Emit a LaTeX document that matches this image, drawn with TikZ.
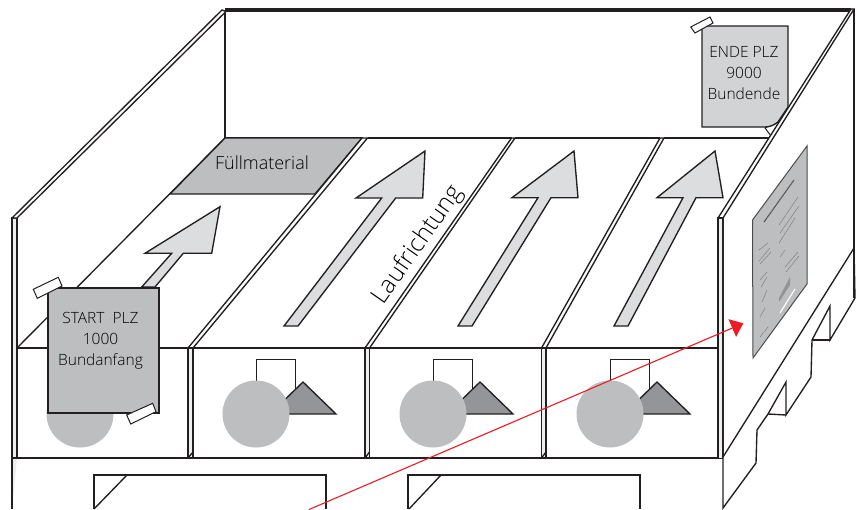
\documentclass[tikz,border=0pt]{standalone}
\usepackage{fontspec}
\setmainfont{Open Sans}
\newfontfamily\lightface{Open Sans Light}
\usetikzlibrary{arrows.meta}
\definecolor{ink}{HTML}{231F20}
\definecolor{midgrey}{HTML}{BCBEC0}
\definecolor{lightgrey}{HTML}{D1D3D4}
\definecolor{arrowgrey}{HTML}{DCDDDE}
\definecolor{darkgrey}{HTML}{939598}
\definecolor{strip}{HTML}{EEEEEF}
\definecolor{redline}{HTML}{ED1C24}
\tikzset{
  edge/.style={draw=ink,line width=1.35pt,line join=miter},
  thin edge/.style={draw=ink,line width=1pt,line join=miter},
  floorarrow/.style={edge,fill=arrowgrey},
  notetext/.style={font=\lightface\fontsize{15.5}{21}\selectfont,text=black,align=center,inner sep=0pt},
  print/.style={draw=black!50,line width=0.6pt,dash pattern=on 1.4pt off 0.5pt},
}
\begin{document}
\begin{tikzpicture}[x=1pt,y=-1pt]
\useasboundingbox (0,0) rectangle (857,509);
\fill[white] (0,0) rectangle (857,509);
\begin{scope}
\clip (0,0) rectangle (857,509);
% back wall
\draw[edge] (225,10) -- (225,138);
\draw[draw=ink,line width=4pt] (225,10) -- (851,10);
% left wall
\draw[edge,fill=strip] (12,509) -- (12,218) -- (17,218) -- (17,458);
\draw[edge,fill=white] (12,218) -- (222,10) -- (226,11.5) -- (17,218) -- cycle;
% floor
\draw[edge] (17,348) -- (225,138);
\draw[edge] (225,138) -- (362,138);
\draw[edge] (368,138) -- (512,138);
\draw[edge] (515,138) -- (660,138);
\draw[edge] (664,138) -- (770,138);
\draw[edge,fill=midgrey] (170,194) -- (225,138) -- (362,138) -- (315,194) -- cycle;
% dividers
\foreach \xa/\xb/\xc/\xd in {188/193/362/367.5, 365/369.5/511.5/515, 541.5/546/660/664}{
  \draw[edge,fill=white] (\xa,348) -- (\xc,138) -- (\xd,138) -- (\xb,348) -- cycle;
  \draw[edge,fill=strip] (\xa,348) rectangle (\xb,458);
  \draw[edge] (\xa,458) -- (\xb,452);
}
% front faces
\draw[edge] (17,348) -- (188,348);
\draw[edge] (193,348) -- (365,348);
\draw[edge] (369.5,348) -- (541.5,348);
\draw[edge] (546,348) -- (718,348);
\draw[edge] (12,458) -- (723,458);
% contents of boxes
\fill[midgrey] (80,414) circle[radius=33.5];
\foreach \dx in {0,177,354}{
  \begin{scope}[xshift=\dx pt]
    \draw[thin edge,fill=white] (256,395) -- (256,359) -- (295,359) -- (295,400);
    \draw[edge,fill=darkgrey] (303,382) -- (336,414) -- (270,414) -- cycle;
    \fill[midgrey] (256,414) circle[radius=33.5];
  \end{scope}
}
% floor arrows
\draw[floorarrow] (141.7,287) -- (171.7,253.3) -- (145,253.3) -- (220,206.7) -- (211.7,253.3) -- (183.3,253.3) -- (155,287) -- cycle;
\draw[floorarrow] (284,326) -- (381.7,198) -- (356,198) -- (425,151) -- (422.7,198) -- (395.7,198) -- (298,326) -- cycle;
\draw[floorarrow] (458,326) -- (538,197.7) -- (512,197.7) -- (574,151) -- (578,197.7) -- (551,197.7) -- (472,326) -- cycle;
\draw[floorarrow] (614,326) -- (683,197.7) -- (657,197.7) -- (715,151) -- (723,197.7) -- (696,197.7) -- (628,326) -- cycle;
% end note (behind the right wall)
\draw[thin edge,fill=white] (765,128) -- (771,136) -- (784,118) -- cycle;
\draw[edge,fill=lightgrey] (702,127) -- (702,26) -- (788,26) -- (788,107) -- (778,122) .. controls (774,125) and (770,127) .. (765,127) -- cycle;
\draw[thin edge,fill=white] (690.7,27) -- (710,17) -- (713,23) -- (695,33) -- cycle;
% right wall
\fill[white] (723,218) -- (853,9) -- (854,9) -- (854,248) -- (723,457) -- cycle;
\draw[edge,fill=white] (718,218) -- (851,9) -- (854,9) -- (723,218) -- cycle;
\draw[edge,fill=strip] (718,458) -- (718,218) -- (723,218) -- (723,458);
\draw[edge,fill=white] (723,218) -- (723,508) -- (756,463) -- (757,430) -- (768,414) -- (786,382) -- (786,415) -- (811,377) -- (812,340) -- (830,306) -- (830,340) -- (855,298) -- (854,248) -- (723,457);
\draw[edge] (768,414) -- (786,415);
\draw[edge] (812,340) -- (830,340);
\draw[edge] (854,9) -- (854,298);
% shipping document on the right wall
\draw[draw=black!70,line width=1pt,fill=midgrey] (752.5,220) -- (807,146) -- (807,284) -- (753,358) -- cycle;
\draw[print,draw=black!70,line width=1.1pt] (764,222) -- (794,180);
\foreach \xa/\ya/\xb/\yb in {
  779/225/798/197, 780/233/799/206, 779/243/795/218,
  759/250/768/243, 759/261/770/248, 760/264/771/252, 760/280/767/272,
  761/287/767/277, 762/302/767/290, 760/317/765/308, 760/337/768/327,
  780/257/785/250, 785/267/798/252, 786/272/799/256}{
  \draw[print] (\xa,\ya) -- (\xb,\yb);
}
\fill[black!42] (779,298) -- (790,277) -- (790,285) -- (779,302) -- cycle;
\draw[white,line width=1.1pt] (780,313) -- (795,289);
% pallet front
\draw[edge] (94,509) -- (94,475) -- (326,475) -- (326,509);
\draw[edge] (127,475) -- (94,509);
\draw[edge] (408,509) -- (408,475) -- (640,475) -- (640,509);
\draw[edge] (441,475) -- (409,509);
% start note
\draw[edge,fill=midgrey] (48,288) rectangle (159,413);
\draw[thin edge,fill=white] (33.3,289.3) -- (58.3,277.3) -- (62,286) -- (37.3,298.3) -- cycle;
\draw[thin edge,fill=white] (126.7,415) -- (152.7,403.3) -- (156,411.7) -- (130.7,424) -- cycle;
% red arrow
\coordinate (redstart) at (309,509.5);
\coordinate (redtip) at (743.3,323.3);
\draw[draw=redline,line width=1.1pt,-{Triangle[length=12pt,width=19pt]}] (redstart) -- (redtip);
\end{scope}
% labels
\node[notetext] (startnote) at (100.5,341) {START\ \ PLZ\\1000\\Bundanfang};
\node[notetext] (endnote) at (744,73) {ENDE PLZ\\9000\\Bundende};
\node[font=\lightface\fontsize{18}{22}\selectfont,text=black,inner sep=0pt] (fill) at (262,163) {Füllmaterial};
\node[font=\lightface\fontsize{24.5}{28}\selectfont,text=black,inner sep=0pt,rotate=55] (dir) at (418,245) {Laufrichtung};
\end{tikzpicture}
\end{document}
